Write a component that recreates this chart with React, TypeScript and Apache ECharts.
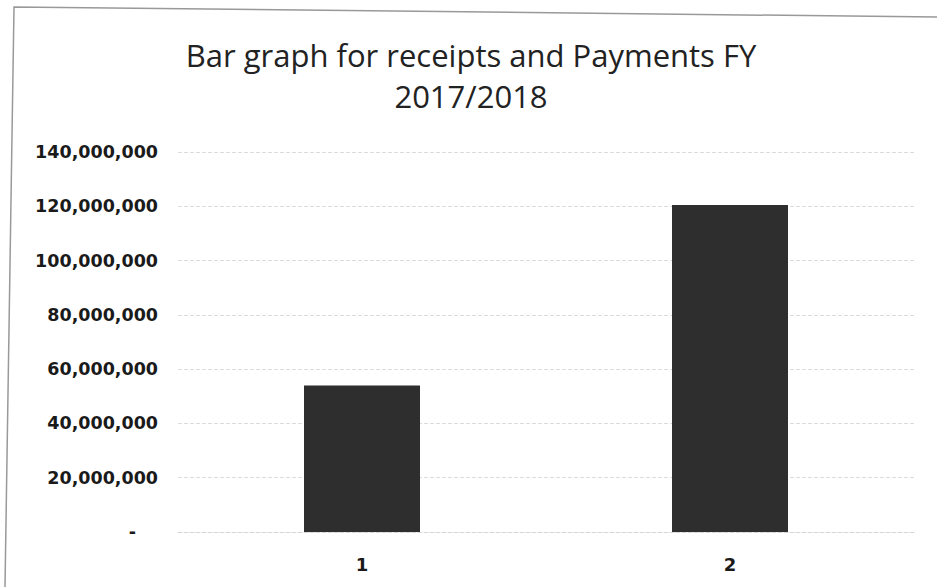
import React, { useEffect, useRef } from "react";
import * as echarts from "echarts";

const titleText = "Bar graph for receipts and Payments FY\n2017/2018";
const categories = ["1", "2"];
const values = [54000000, 120500000];
const yMin = 0;
const yMax = 140000000;
const yInterval = 20000000;

function fmt(v: number): string {
  if (v === 0) return "{z|-}";
  return v.toLocaleString("en-US");
}

export default function App() {
  const ref = useRef<HTMLDivElement>(null);
  useEffect(() => {
    if (!ref.current) return;
    const chart = echarts.init(ref.current, undefined, { renderer: "svg" });
    chart.setOption({
      animation: false,
      backgroundColor: "#ffffff",
      title: {
        text: titleText,
        left: 466,
        textAlign: "center",
        top: 29,
        textStyle: {
          fontFamily: "Open Sans",
          fontSize: 31,
          fontWeight: "normal",
          color: "#222",
          lineHeight: 41,
        },
      },
      graphic: [
        {
          type: "polyline",
          shape: { points: [[5, 587], [14, 7], [937, 17]] },
          style: { stroke: "#999", lineWidth: 1.5, fill: "none" },
          silent: true,
        },
      ],
      grid: { left: 178, right: 23, top: 152, bottom: 55, containLabel: false },
      xAxis: {
        type: "category",
        data: categories,
        axisLine: { show: true, lineStyle: { color: "#d6d6d6", type: "dashed" } },
        axisTick: { show: false },
        axisLabel: {
          margin: 23,
          fontFamily: "DejaVu Sans",
          fontWeight: "bold",
          fontSize: 18,
          color: "#1a1a1a",
        },
      },
      yAxis: {
        type: "value",
        min: yMin,
        max: yMax,
        interval: yInterval,
        axisLine: { show: false },
        axisTick: { show: false },
        splitLine: { lineStyle: { color: "#dcdcdc", type: "dashed", width: 1 } },
        axisLabel: {
          margin: 20,
          fontFamily: "DejaVu Sans",
          fontWeight: "bold",
          fontSize: 17.5,
          color: "#1a1a1a",
          formatter: fmt,
          rich: {
            z: {
              fontFamily: "DejaVu Sans",
              fontWeight: "bold",
              fontSize: 17.5,
              color: "#1a1a1a",
              padding: [0, 22, 0, 0],
            },
          },
        },
      },
      series: [
        {
          type: "bar",
          data: values,
          barWidth: 116,
          itemStyle: { color: "#2e2e2e" },
        },
      ],
    });
    return () => chart.dispose();
  }, []);
  return (
    <div
      ref={ref}
      style={{ position: "fixed", left: 0, top: 0, width: 937, height: 587 }}
    />
  );
}
